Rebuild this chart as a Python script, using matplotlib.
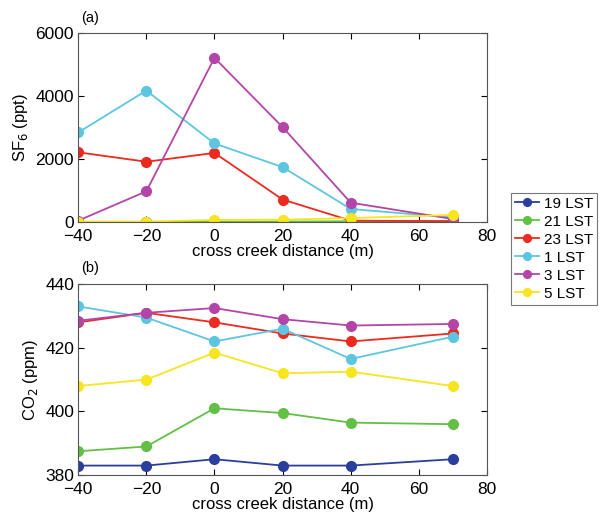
import numpy as np
import matplotlib.pyplot as plt

# cross creek positions (m)
distance = [-40, -20, 0, 20, 40, 70]
labels = ['19 LST', '21 LST', '23 LST', '1 LST', '3 LST', '5 LST']
colors = ['#2a3f9d', '#62c044', '#ec2a1f', '#5cc6e0', '#b345a9', '#f6e51f']

# SF6 (ppt)
sf6_19 = [0, 0, 0, 0, 0, 0]
sf6_21 = [0, 0, 10, 20, 30, 40]
sf6_23 = [2220, 1920, 2200, 720, 50, 30]
sf6_1 = [2850, 4180, 2500, 1750, 420, 150]
sf6_3 = [50, 980, 5220, 3020, 620, 100]
sf6_5 = [20, 20, 70, 80, 130, 230]

# CO2 (ppm)
co2_19 = [383, 383, 385, 383, 383, 385]
co2_21 = [387.5, 389, 401, 399.5, 396.5, 396]
co2_23 = [428, 431, 428, 424.5, 422, 424.5]
co2_1 = [433, 429.5, 422, 426, 416.5, 423.5]
co2_3 = [428.5, 431, 432.5, 429, 427, 427.5]
co2_5 = [408, 410, 418.5, 412, 412.5, 408]

sf6 = [sf6_19, sf6_21, sf6_23, sf6_1, sf6_3, sf6_5]
co2 = [co2_19, co2_21, co2_23, co2_1, co2_3, co2_5]

plt.rcParams['font.family'] = ['Liberation Sans', 'DejaVu Sans']
plt.rcParams['font.size'] = 12

fig = plt.figure(figsize=(6.11, 5.12), dpi=100)
ax1 = fig.add_axes([0.128, 0.566, 0.669, 0.369])
ax2 = fig.add_axes([0.128, 0.072, 0.669, 0.373])

lines = []
for vals, c, lab in zip(sf6, colors, labels):
    ln, = ax1.plot(distance, vals, '-o', color=c, lw=1.3, ms=7, label=lab)
    lines.append(ln)
for vals, c in zip(co2, colors):
    ax2.plot(distance, vals, '-o', color=c, lw=1.3, ms=7)

ax1.set_xlim(-40, 80)
ax1.set_ylim(0, 6000)
ax1.set_yticks([0, 2000, 4000, 6000])
ax1.set_ylabel('SF$_6$ (ppt)', labelpad=4)
ax1.set_xlabel('cross creek distance (m)', labelpad=0)

ax2.set_xlim(-40, 80)
ax2.set_ylim(380, 440)
ax2.set_yticks([380, 400, 420, 440])
ax2.set_ylabel('CO$_2$ (ppm)', labelpad=4)
ax2.set_xlabel('cross creek distance (m)', labelpad=0)

for ax in (ax1, ax2):
    ax.tick_params(direction='in', top=True, right=True, length=4, labelsize=12.5)
    ax.tick_params(axis='x', pad=5)
    ax.tick_params(axis='y', pad=3)
    for s in ax.spines.values():
        s.set_color('#555555')

fig.text(0.133, 0.958, '(a)', fontsize=10.5)
fig.text(0.133, 0.468, '(b)', fontsize=10.5)

leg = fig.legend(handles=lines, loc='upper left', bbox_to_anchor=(0.836, 0.623),
                 frameon=True, fancybox=False, edgecolor='#555555',
                 handlelength=1.6, handletextpad=0.3, labelspacing=0.26,
                 borderpad=0.25, borderaxespad=0, fontsize=11, markerscale=0.8)
leg.get_frame().set_linewidth(0.8)

fig.savefig('out.png', dpi=100)
